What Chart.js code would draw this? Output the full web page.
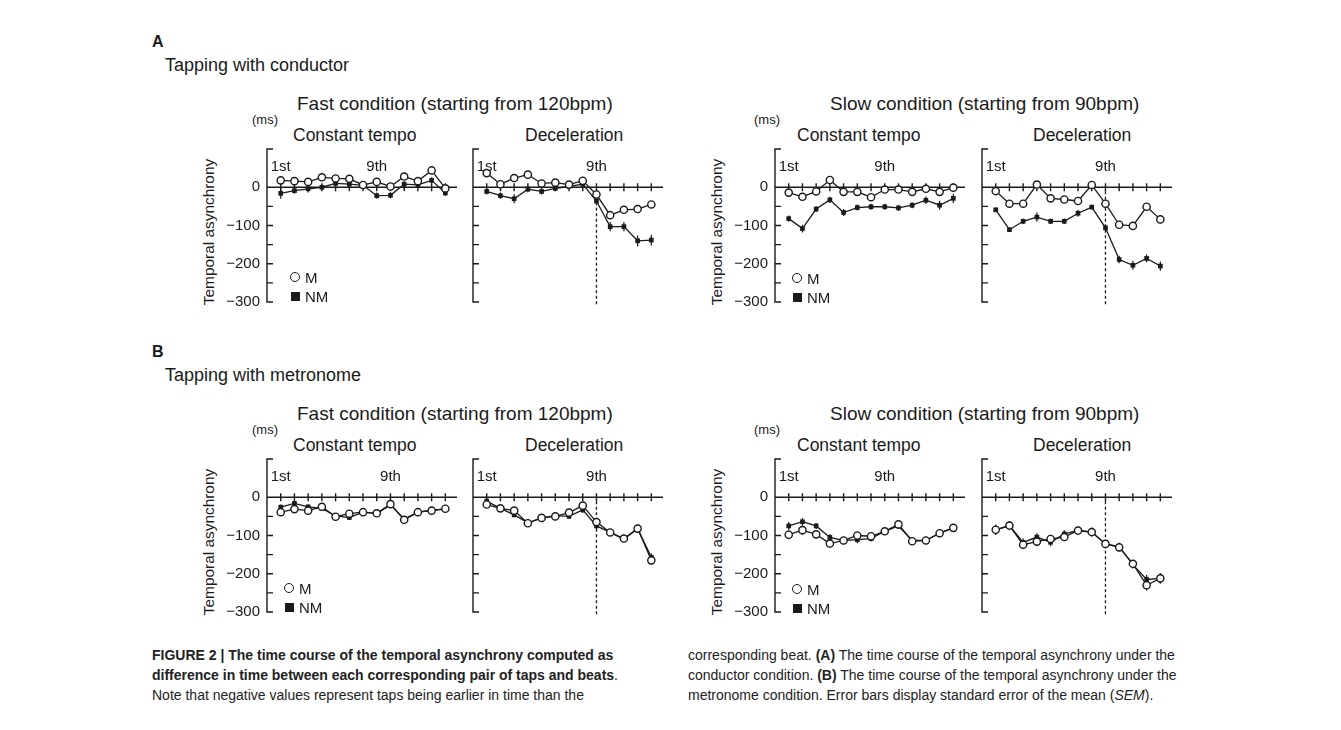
<!DOCTYPE html>
<html>
<head>
<meta charset="utf-8">
<script src="https://cdn.jsdelivr.net/npm/chart.js@4.4.1/dist/chart.umd.min.js"></script>
<style>
  body { margin: 0; background: #fff; }
  #fig { position: relative; width: 1341px; height: 730px; overflow: hidden; font-family: "Liberation Sans", Arial, sans-serif; color: #1a1a1a; }
  .t { position: absolute; white-space: nowrap; line-height: 1; }
  .title { font-size: 19px; }
  .tap { font-size: 18px; }
  .sub { font-size: 17.5px; }
  .ms { font-size: 13px; }
  .letter { font-size: 16px; font-weight: bold; }
  .ylab { font-size: 15.4px; transform: translate(-50%, -50%) rotate(-90deg); }
  .leg { font-size: 15px; }
  .circ { position: absolute; width: 8px; height: 8px; border: 1.5px solid #1a1a1a; border-radius: 50%; background: #fff; }
  .sq { position: absolute; width: 9px; height: 9px; background: #1a1a1a; }
  canvas { position: absolute; }
  .cap { position: absolute; font-size: 14px; line-height: 20px; white-space: nowrap; color: #222; }
</style>
</head>
<body>
<div id="fig"></div>
<script>
// beats on the x axis
const BEATS = [1, 2, 3, 4, 5, 6, 7, 8, 9, 10, 11, 12, 13];
const BEAT_LABELS = ['1st', '9th'];
// beat above which each panel prints its "1st" / "9th" label (A1..A4, B1..B4)
const FIRST_AT = [1, 1, 1, 1, 1, 1, 1, 1];
const NINTH_AT = [8, 9, 8, 9, 9, 9, 8, 9];
const Y_LABELS = [0, -100, -200, -300];
const Y_MINOR = [-50, -100, -150, -200, -250];
const Y_MIN = -300, Y_MAX = 100, X_MAX = 13.85;

// (A) tapping with conductor
const condFastConstM = [18, 16, 14, 26, 23, 22, 6, 14, 2, 28, 16, 44, -3];
const condFastConstNM = [-16, -9, -4, 0, 10, 8, 5, -22, -21, 8, 6, 18, -15];
const condFastConstSemM = [6, 5, 5, 5, 5, 5, 5, 5, 5, 6, 5, 6, 5];
const condFastConstSemNM = [14, 8, 10, 6, 8, 8, 6, 8, 8, 8, 6, 8, 8];

const condFastDecelM = [37, 8, 24, 33, 10, 12, 7, 17, -19, -73, -59, -57, -45];
const condFastDecelNM = [-11, -22, -30, -5, -11, -3, 2, 8, -36, -103, -103, -140, -138];
const condFastDecelSemM = [6, 5, 6, 6, 6, 5, 5, 5, 6, 8, 7, 8, 9];
const condFastDecelSemNM = [8, 8, 12, 8, 8, 6, 6, 6, 9, 12, 12, 14, 14];

const condSlowConstM = [-14, -25, -11, 19, -12, -12, -26, -6, -6, -12, -4, -12, -1];
const condSlowConstNM = [-82, -108, -57, -33, -66, -53, -51, -51, -54, -47, -34, -47, -29];
const condSlowConstSemM = [8, 7, 6, 8, 6, 6, 7, 6, 6, 6, 7, 8, 6];
const condSlowConstSemNM = [8, 10, 8, 8, 9, 8, 8, 8, 8, 8, 10, 12, 12];

const condSlowDecelM = [-10, -43, -43, 7, -29, -32, -36, 6, -43, -98, -101, -51, -84];
const condSlowDecelNM = [-59, -111, -89, -78, -89, -89, -68, -52, -106, -189, -204, -186, -206];
const condSlowDecelSemM = [8, 8, 7, 8, 7, 7, 7, 6, 8, 9, 9, 9, 10];
const condSlowDecelSemNM = [6, 6, 7, 12, 7, 7, 9, 6, 8, 10, 12, 10, 12];

// (B) tapping with metronome
const metFastConstM = [-39, -31, -35, -25, -51, -43, -39, -42, -18, -59, -39, -35, -30];
const metFastConstNM = [-26, -16, -25, -29, -49, -53, -39, -43, -20, -57, -39, -34, -31];
const metFastConstSemM = [7, 6, 6, 6, 6, 6, 6, 6, 6, 8, 6, 6, 6];
const metFastConstSemNM = [7, 6, 6, 6, 6, 6, 6, 6, 6, 8, 6, 6, 6];

const metFastDecelM = [-19, -29, -35, -68, -54, -50, -40, -22, -65, -92, -108, -82, -165];
const metFastDecelNM = [-10, -29, -46, -67, -54, -48, -50, -33, -75, -92, -110, -82, -157];
const metFastDecelSemM = [7, 6, 6, 7, 6, 6, 6, 8, 8, 8, 8, 10, 10];
const metFastDecelSemNM = [7, 6, 6, 7, 6, 6, 6, 8, 8, 8, 8, 10, 10];

const metSlowConstM = [-98, -86, -97, -121, -113, -100, -102, -89, -71, -115, -113, -94, -80];
const metSlowConstNM = [-75, -64, -75, -105, -113, -111, -108, -89, -75, -113, -113, -94, -80];
const metSlowConstSemM = [12, 12, 8, 10, 10, 10, 9, 9, 10, 10, 10, 10, 10];
const metSlowConstSemNM = [10, 10, 8, 9, 9, 9, 8, 8, 8, 8, 9, 9, 9];

const metSlowDecelM = [-85, -74, -124, -116, -109, -104, -87, -91, -122, -131, -174, -230, -212];
const metSlowDecelNM = [-85, -74, -118, -104, -118, -96, -87, -91, -122, -129, -176, -215, -212];
const metSlowDecelSemM = [14, 12, 10, 12, 10, 10, 10, 12, 10, 10, 10, 14, 14];
const metSlowDecelSemNM = [12, 10, 10, 10, 10, 10, 10, 10, 10, 10, 10, 12, 12];

const INK = '#1a1a1a';
const fig = document.getElementById('fig');

function addText(cls, text, left, top) {
  const d = document.createElement('div');
  d.className = 't ' + cls;
  d.textContent = text;
  d.style.left = left + 'px';
  d.style.top = top + 'px';
  fig.appendChild(d);
  return d;
}

// axis frame, beat ticks, dashed 9th line and SEM bars
const figureMarks = {
  id: 'figureMarks',
  beforeDatasetsDraw(chart, args, opts) {
    const { ctx } = chart;
    const xs = chart.scales.x, ys = chart.scales.y;
    const left = xs.getPixelForValue(0), right = xs.getPixelForValue(X_MAX);
    const y0 = ys.getPixelForValue(0);
    const yTop = ys.getPixelForValue(Y_MAX), yBot = ys.getPixelForValue(Y_MIN);
    ctx.save();
    ctx.strokeStyle = INK;
    ctx.lineWidth = 1.4;
    ctx.beginPath();
    ctx.moveTo(left + 6, yTop); ctx.lineTo(left, yTop);
    ctx.lineTo(left, yBot); ctx.lineTo(left + 6, yBot);
    Y_MINOR.forEach(v => {
      const p = ys.getPixelForValue(v);
      ctx.moveTo(left, p); ctx.lineTo(left + 6, p);
    });
    ctx.moveTo(left, y0); ctx.lineTo(right, y0);
    BEATS.forEach(b => {
      const p = xs.getPixelForValue(b);
      ctx.moveTo(p, y0 - 4); ctx.lineTo(p, y0 + 4);
    });
    ctx.stroke();

    if (opts.dashed) {
      const p = xs.getPixelForValue(9);
      ctx.setLineDash([3, 2.5]);
      ctx.lineWidth = 1.3;
      ctx.beginPath();
      ctx.moveTo(p, y0 + 4); ctx.lineTo(p, ys.getPixelForValue(-308));
      ctx.stroke();
      ctx.setLineDash([]);
    }

    // error bars
    ctx.lineWidth = 1.2;
    chart.data.datasets.forEach(ds => {
      ctx.beginPath();
      ds.data.forEach((pt, i) => {
        const px = xs.getPixelForValue(pt.x);
        ctx.moveTo(px, ys.getPixelForValue(pt.y + ds.sem[i]));
        ctx.lineTo(px, ys.getPixelForValue(pt.y - ds.sem[i]));
      });
      ctx.stroke();
    });

    ctx.fillStyle = INK;
    ctx.font = '15px "Liberation Sans", Arial, sans-serif';
    ctx.textAlign = 'center';
    ctx.textBaseline = 'alphabetic';
    opts.marks.forEach((b, i) => {
      ctx.fillText(BEAT_LABELS[i], xs.getPixelForValue(b), y0 - 16);
    });
    ctx.restore();
  }
};

const PAD_L = 10, Y_W = 45, PAD_T = 10, PAD_R = 14, PAD_B = 14;
const AREA_W = 190, AREA_H = 161;

function panel(idx, axisX, topY, mVals, nmVals, mSem, nmSem, showLabels, dashed) {
  const c = document.createElement('canvas');
  const w = PAD_L + Y_W + AREA_W + PAD_R, h = PAD_T + AREA_H + PAD_B;
  c.width = w; c.height = h;
  c.style.left = (axisX - PAD_L - Y_W) + 'px';
  c.style.top = (topY - PAD_T) + 'px';
  c.style.width = w + 'px'; c.style.height = h + 'px';
  fig.appendChild(c);
  new Chart(c.getContext('2d'), {
    type: 'line',
    data: {
      datasets: [
        {
          label: 'M',
          data: BEATS.map((b, i) => ({ x: b, y: mVals[i] })),
          sem: mSem,
          borderColor: INK, borderWidth: 1.3,
          pointStyle: 'circle', pointRadius: 3.6,
          pointBackgroundColor: '#fff', pointBorderColor: INK, pointBorderWidth: 1.4,
          order: 0
        },
        {
          label: 'NM',
          data: BEATS.map((b, i) => ({ x: b, y: nmVals[i] })),
          sem: nmSem,
          borderColor: INK, borderWidth: 1.3,
          pointStyle: 'rect', pointRadius: 3.3,
          pointBackgroundColor: INK, pointBorderColor: INK, pointBorderWidth: 0,
          order: 1
        }
      ]
    },
    options: {
      responsive: false,
      animation: false,
      devicePixelRatio: 1,
      clip: false,
      layout: { padding: { left: PAD_L, top: PAD_T, right: PAD_R, bottom: PAD_B } },
      plugins: {
        legend: { display: false },
        tooltip: { enabled: false },
        figureMarks: { dashed, marks: [FIRST_AT[idx], NINTH_AT[idx]] }
      },
      scales: {
        x: { type: 'linear', min: 0, max: X_MAX, display: false },
        y: {
          type: 'linear', min: Y_MIN, max: Y_MAX,
          grid: { display: false, drawTicks: false },
          border: { display: false },
          afterBuildTicks: s => { s.ticks = Y_LABELS.map(v => ({ value: v })); },
          afterFit: s => { s.width = Y_W; },
          ticks: {
            padding: 7,
            color: INK,
            font: { family: '"Liberation Sans", Arial, sans-serif', size: 15 },
            callback: v => showLabels ? (v === 0 ? '0' : '\u2212' + Math.abs(v)) : ''
          }
        }
      }
    },
    plugins: [figureMarks]
  });
}

function block(offY, letter, tapping) {
  addText('letter', letter, 152, 34 + offY);
  addText('tap', tapping, 165, 56 + offY);
  addText('title', 'Fast condition (starting from 120bpm)', 297, 94 + offY);
  addText('title', 'Slow condition (starting from 90bpm)', 830, 94 + offY);
  [[252, 293, 267], [754, 797, 775]].forEach(([m, l, ax]) => {
    addText('ms', '(ms)', m, 113 + offY);
    addText('sub', 'Constant tempo', l, 127 + offY);
    addText('ylab', 'Temporal asynchrony', ax - 58, 232 + offY);
  });
  addText('sub', 'Deceleration', 525, 127 + offY);
  addText('sub', 'Deceleration', 1033, 127 + offY);
}

function legend(cx, cy) {
  const c = document.createElement('div'); c.className = 'circ';
  c.style.left = (cx - 5.5) + 'px'; c.style.top = (cy - 5.5) + 'px'; fig.appendChild(c);
  addText('leg', 'M', cx + 10, cy - 7);
  const s = document.createElement('div'); s.className = 'sq';
  s.style.left = (cx - 4.5) + 'px'; s.style.top = (cy + 19 - 4.5) + 'px'; fig.appendChild(s);
  addText('leg', 'NM', cx + 10, cy + 12);
}

block(0, 'A', 'Tapping with conductor');
block(310, 'B', 'Tapping with metronome');

panel(0, 267, 143, condFastConstM, condFastConstNM, condFastConstSemM, condFastConstSemNM, true, false);
panel(1, 473, 143, condFastDecelM, condFastDecelNM, condFastDecelSemM, condFastDecelSemNM, false, true);
panel(2, 775, 143, condSlowConstM, condSlowConstNM, condSlowConstSemM, condSlowConstSemNM, true, false);
panel(3, 982, 143, condSlowDecelM, condSlowDecelNM, condSlowDecelSemM, condSlowDecelSemNM, false, true);
panel(4, 267, 453, metFastConstM, metFastConstNM, metFastConstSemM, metFastConstSemNM, true, false);
panel(5, 473, 453, metFastDecelM, metFastDecelNM, metFastDecelSemM, metFastDecelSemNM, false, true);
panel(6, 775, 453, metSlowConstM, metSlowConstNM, metSlowConstSemM, metSlowConstSemNM, true, false);
panel(7, 982, 453, metSlowDecelM, metSlowDecelNM, metSlowDecelSemM, metSlowDecelSemNM, false, true);

legend(295, 277);
legend(797, 278);
legend(289, 588);
legend(797, 589);

// caption
const capL = document.createElement('div');
capL.className = 'cap';
capL.style.left = '152px'; capL.style.top = '645px';
capL.innerHTML = '<b>FIGURE 2 | The time course of the temporal asynchrony computed as</b><br>' +
  '<b>difference in time between each corresponding pair of taps and beats</b>.<br>' +
  'Note that negative values represent taps being earlier in time than the';
fig.appendChild(capL);
const capR = document.createElement('div');
capR.className = 'cap';
capR.style.left = '688px'; capR.style.top = '645px';
capR.innerHTML = 'corresponding beat. <b>(A)</b> The time course of the temporal asynchrony under the<br>' +
  'conductor condition. <b>(B)</b> The time course of the temporal asynchrony under the<br>' +
  'metronome condition. Error bars display standard error of the mean (<i>SEM</i>).';
fig.appendChild(capR);
</script>
</body>
</html>
